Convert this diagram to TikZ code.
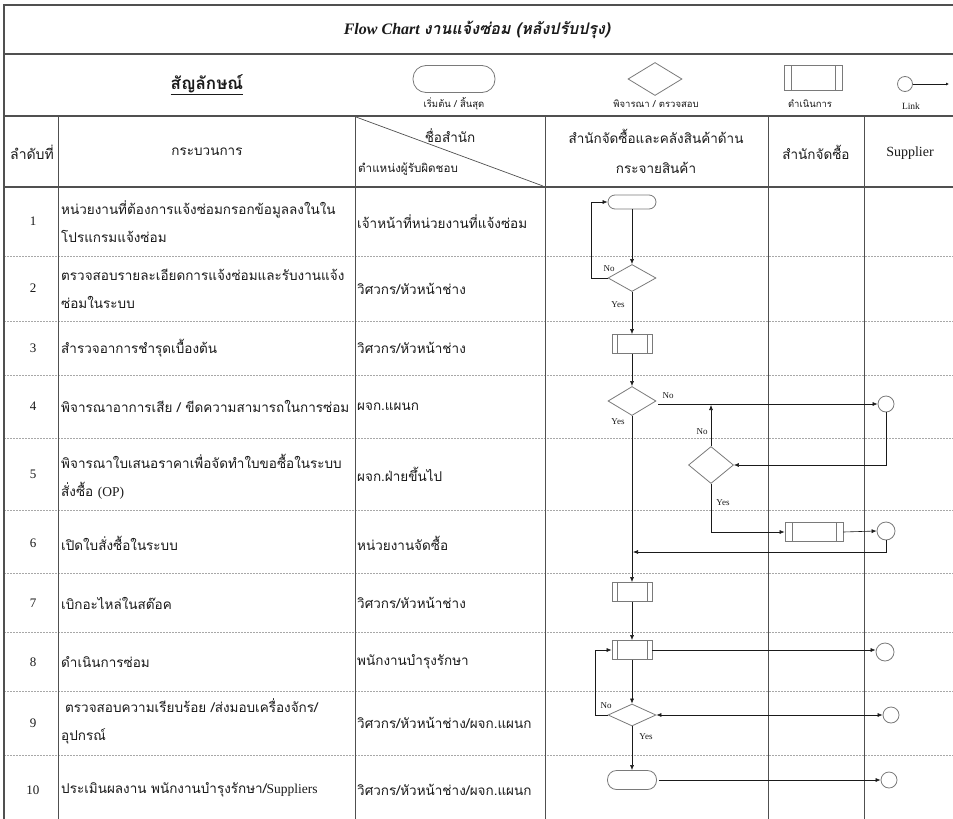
\documentclass[tikz,border=0pt]{standalone}
\usepackage{fontspec}
\setmainfont{Liberation Serif}
\newfontfamily\thai[Script=Thai]{Loma}
\usetikzlibrary{shapes.geometric,arrows.meta}
\definecolor{shapegray}{HTML}{7A7A7A}
\definecolor{gridgray}{HTML}{505050}
\definecolor{dashgray}{HTML}{A8A8A8}
\definecolor{ink}{HTML}{1A1A1A}
\tikzset{
  majorline/.style={draw=gridgray, line width=1.6pt},
  colline/.style={draw=gridgray, line width=0.8pt},
  rowsep/.style={draw=dashgray, line width=0.6pt, dash pattern=on 2pt off 1pt},
  terminal/.style={draw=shapegray, line width=0.8pt, rectangle, rounded corners=7pt, inner sep=0pt, minimum width=48pt, minimum height=15pt},
  decision/.style={draw=shapegray, line width=0.8pt, diamond, inner sep=0pt, minimum width=48pt, minimum height=27pt},
  procbox/.style={draw=shapegray, line width=0.8pt, rectangle, inner sep=0pt, minimum width=40pt, minimum height=19pt,
    path picture={\draw[shapegray, line width=0.8pt] ([xshift=#1]path picture bounding box.north west) -- ([xshift=#1]path picture bounding box.south west);
                  \draw[shapegray, line width=0.8pt] ([xshift=-#1]path picture bounding box.north east) -- ([xshift=-#1]path picture bounding box.south east);}},
  procbox/.default=5pt,
  link/.style={draw=shapegray, line width=0.8pt, circle, inner sep=0pt, minimum size=17pt},
  arr/.style={-{Latex[length=5pt,width=4pt]}, draw=ink, line width=0.6pt},
  dblarr/.style={{Latex[length=5pt,width=4pt]}-{Latex[length=5pt,width=4pt]}, draw=ink, line width=0.6pt},
  numtxt/.style={text=ink, font=\fontsize{13}{15}\selectfont, inner sep=0pt},
  celltxt/.style={text=ink, font=\thai\fontsize{13.5}{28}\selectfont, anchor=west, align=left, inner sep=0pt},
  headtxt/.style={text=ink, font=\thai\fontsize{13.5}{30}\selectfont, align=center, inner sep=0pt},
  yn/.style={text=ink, font=\fontsize{9}{10}\selectfont, inner sep=0pt},
  legtxt/.style={text=ink, font=\thai\fontsize{9.5}{11}\selectfont, inner sep=0pt},
}
\begin{document}
\begin{tikzpicture}[x=1pt,y=-1pt]
\useasboundingbox (0,0) rectangle (953,819);
\fill[white] (0,0) rectangle (953,819);

% row separators (dashed)
\foreach \yy in {256,321,375,438,510,573,632,691,755}
  \draw[rowsep] (4,\yy) -- (953,\yy);
% column lines
\foreach \xx in {58,355,545,768,864}
  \draw[colline] (\xx,116) -- (\xx,819);
% major horizontals
\foreach \yy in {5,54,116,187}
  \draw[majorline] (4,\yy) -- (953,\yy);
\draw[majorline] (4,4.2) -- (4,819);
% header diagonal
\draw[draw=gridgray, line width=0.7pt] (356,117) -- (543,186);

% title
\node[text=ink, inner sep=0pt] (title) at (477,30)
  {\fontsize{16}{18}\selectfont\bfseries\itshape Flow Chart {\thai งานแจ้งซ่อม (หลังปรับปรุง)}};

% legend
\node[text=ink, inner sep=0pt] (legtitle) at (207,85)
  {\thai\fontsize{17}{19}\selectfont\bfseries\underline{สัญลักษณ์}};
\node[terminal, minimum width=82pt, minimum height=27pt, rounded corners=13pt] (legterm) at (454,79) {};
\node[decision, minimum width=54pt, minimum height=33pt] (legdec) at (655,79) {};
\node[procbox=7pt, minimum width=58pt, minimum height=25pt] (legproc) at (813,78) {};
\node[link, minimum size=15pt] (leglink) at (905,84) {};
\coordinate (legend) at (949,84);
\draw[arr, -{Latex[length=3pt,width=3pt]}] (leglink.east) -- (legend);
\node[legtxt] (lt1) at (454,104) {เริ่มต้น / สิ้นสุด};
\node[legtxt] (lt2) at (656,104) {พิจารณา / ตรวจสอบ};
\node[legtxt] (lt3) at (810,104) {ดำเนินการ};
\node[yn, font=\fontsize{9.5}{11}\selectfont] (lt4) at (911,106) {Link};

% header row
\node[headtxt, font=\thai\fontsize{14}{16}\selectfont] (h1) at (32,152) {ลำดับที่};
\node[headtxt] (h2) at (207,152) {กระบวนการ};
\node[headtxt] (h3a) at (450,136) {ชื่อสำนัก};
\node[headtxt, anchor=west, font=\thai\fontsize{11.6}{13}\selectfont] (h3b) at (358,169) {ตำแหน่งผู้รับผิดชอบ};
\node[headtxt] (h4) at (656,151) {สำนักจัดซื้อและคลังสินค้าด้าน\\กระจายสินค้า};
\node[headtxt] (h5) at (816,152) {สำนักจัดซื้อ};
\node[numtxt, font=\fontsize{14}{16}\selectfont] (h6) at (910,153) {Supplier};

% numbers
\foreach \n/\yy in {1/221.5,2/288.5,3/348,4/406.5,5/474,6/543,7/603,8/662,9/723,10/790}
  \node[numtxt] (num\n) at (33,\yy) {\n};

% process texts
\node[celltxt] (p1t) at (61,221.5) {หน่วยงานที่ต้องการแจ้งซ่อมกรอกข้อมูลลงในใน\\โปรแกรมแจ้งซ่อม};
\node[celltxt] (p2t) at (61,288.5) {ตรวจสอบรายละเอียดการแจ้งซ่อมและรับงานแจ้ง\\ซ่อมในระบบ};
\node[celltxt] (p3t) at (61,348) {สำรวจอาการชำรุดเบื้องต้น};
\node[celltxt] (p4t) at (61,406.5) {พิจารณาอาการเสีย / ขีดความสามารถในการซ่อม};
\node[celltxt] (p5t) at (61,477) {พิจารณาใบเสนอราคาเพื่อจัดทำใบขอซื้อในระบบ\\สั่งซื้อ {\rmfamily (OP)}};
\node[celltxt] (p6t) at (61,543) {เปิดใบสั่งซื้อในระบบ};
\node[celltxt] (p7t) at (61,603) {เบิกอะไหล่ในสต๊อค};
\node[celltxt] (p8t) at (61,662) {ดำเนินการซ่อม};
\node[celltxt] (p9t) at (61,721) {\hspace{4pt}ตรวจสอบความเรียบร้อย /ส่งมอบเครื่องจักร/\\อุปกรณ์};
\node[celltxt] (p10t) at (61,790) {ประเมินผลงาน พนักงานบำรุงรักษา/{\rmfamily Suppliers}};

% responsible texts
\node[celltxt] (r1) at (357,221.5) {เจ้าหน้าที่หน่วยงานที่แจ้งซ่อม};
\node[celltxt] (r2) at (357,288.5) {วิศวกร/หัวหน้าช่าง};
\node[celltxt] (r3) at (357,348) {วิศวกร/หัวหน้าช่าง};
\node[celltxt] (r4) at (357,406.5) {ผจก.แผนก};
\node[celltxt] (r5) at (357,474) {ผจก.ฝ่ายขึ้นไป};
\node[celltxt] (r6) at (357,543) {หน่วยงานจัดซื้อ};
\node[celltxt] (r7) at (357,603) {วิศวกร/หัวหน้าช่าง};
\node[celltxt] (r8) at (357,662) {พนักงานบำรุงรักษา};
\node[celltxt] (r9) at (357,723) {วิศวกร/หัวหน้าช่าง/ผจก.แผนก};
\node[celltxt] (r10) at (357,790) {วิศวกร/หัวหน้าช่าง/ผจก.แผนก};

% flowchart shapes
\node[terminal, minimum height=14pt] (t1) at (632,202) {};
\node[decision] (d2) at (632,278) {};
\node[procbox] (p3) at (632,344) {};
\node[decision, minimum height=29pt] (d4) at (632,401) {};
\node[link, minimum size=16pt] (c4) at (886,404) {};
\node[decision, minimum width=45pt, minimum height=37pt] (d5) at (711,465) {};
\node[procbox=7pt, minimum width=58pt] (p6) at (814,532) {};
\node[link, minimum size=18pt] (c6) at (886,531) {};
\node[procbox] (p7) at (632,592) {};
\node[procbox] (p8) at (632,650) {};
\node[link, minimum size=18pt] (c8) at (885,652) {};
\node[decision, minimum height=22pt] (d9) at (632,715) {};
\node[link, minimum size=16pt] (c9) at (891,715) {};
\node[terminal, minimum width=49pt, minimum height=19pt, rounded corners=9pt] (t10) at (632,780) {};
\node[link, minimum size=16pt] (c10) at (889,780) {};

\coordinate (j5) at (711,405);
\coordinate (j6) at (633,552);

% connectors
\draw[arr] (t1.south) -- (d2.north);
\draw[arr] (d2.west) -- ++(-16,0) |- (t1.west);
\draw[arr] (d2.south) -- (p3.north);
\draw[arr] (p3.south) -- (d4.north);
\draw[arr] ([xshift=2pt,yshift=-3pt]d4.east) -- (c4.west);
\draw[arr] (d4.south) -- (p7.north);
\draw[arr] (d5.north) -- (j5);
\draw[arr] (c4.south) |- (d5.east);
\draw[arr] (d5.south) |- (p6.west);
\draw[arr] (p6.east) -- (c6.west);
\draw[arr] (c6.south) |- (j6);
\draw[arr] (p7.south) -- (p8.north);
\draw[arr] (p8.east) -- (p8.east -| c8.west);
\draw[arr] (d9.west) -- ++(-12,0) |- (p8.west);
\draw[arr] (p8.south) -- (d9.north);
\draw[dblarr] (d9.east) -- (c9.west);
\draw[arr] (d9.south) -- (t10.north);
\draw[arr] ([xshift=2pt]t10.east) -- (c10.west);

% yes / no labels
\node[yn] (no2) at (609,269) {No};
\node[yn] (yes2) at (618,305) {Yes};
\node[yn] (no4) at (668,396) {No};
\node[yn] (yes4) at (618,422) {Yes};
\node[yn] (no5) at (702,432) {No};
\node[yn] (yes5) at (723,503) {Yes};
\node[yn] (no9) at (606,706) {No};
\node[yn] (yes9) at (646,737) {Yes};
\end{tikzpicture}
\end{document}
